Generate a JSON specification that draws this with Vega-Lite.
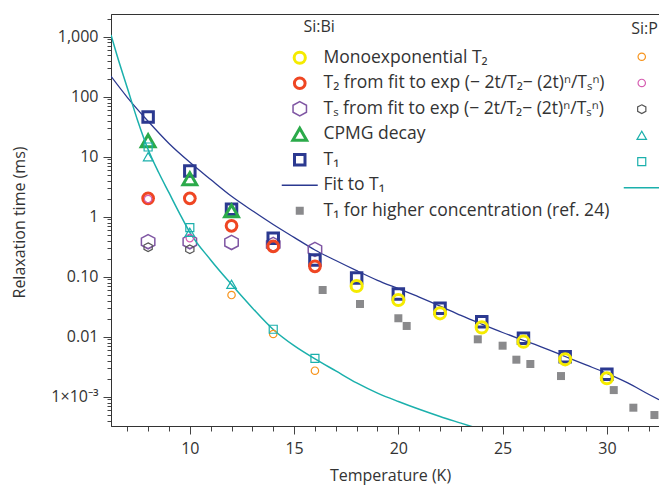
{
  "$schema": "https://vega.github.io/schema/vega-lite/v6.json",
  "width": 548,
  "height": 412,
  "autosize": "none",
  "padding": {"left": 111, "top": 14, "right": 0, "bottom": 60},
  "background": "white",
  "config": {
    "font": "Open Sans",
    "view": {"stroke": "#333333", "strokeWidth": 1},
    "axis": {"labelFont": "Open Sans", "titleFont": "Open Sans", "labelColor": "#333333", "titleColor": "#333333", "labelFontSize": 16, "titleFontSize": 16, "titleFontWeight": "normal", "domainColor": "#333333", "tickColor": "#444444", "grid": false},
    "legend": {"labelFont": "Open Sans", "titleFont": "Open Sans", "labelFontSize": 17.5, "labelColor": "#333333", "titleColor": "#333333", "titleFontSize": 16, "titleFontWeight": "normal", "labelLimit": 400, "gridAlign": "all"}
  },
  "datasets": {
    "bi": [
      {"T": 8, "v": 0.383, "s": "Tₛ from fit to exp (− 2t/T₂− (2t)ⁿ/Tₛⁿ)"},
      {"T": 10, "v": 0.383, "s": "Tₛ from fit to exp (− 2t/T₂− (2t)ⁿ/Tₛⁿ)"},
      {"T": 12, "v": 0.372, "s": "Tₛ from fit to exp (− 2t/T₂− (2t)ⁿ/Tₛⁿ)"},
      {"T": 14, "v": 0.345, "s": "Tₛ from fit to exp (− 2t/T₂− (2t)ⁿ/Tₛⁿ)"},
      {"T": 16, "v": 0.285, "s": "Tₛ from fit to exp (− 2t/T₂− (2t)ⁿ/Tₛⁿ)"},
      {"T": 16.37, "v": 0.06, "s": "T₁ for higher concentration (ref. 24)"},
      {"T": 18.16, "v": 0.0351, "s": "T₁ for higher concentration (ref. 24)"},
      {"T": 20.0, "v": 0.0203, "s": "T₁ for higher concentration (ref. 24)"},
      {"T": 20.4, "v": 0.0151, "s": "T₁ for higher concentration (ref. 24)"},
      {"T": 23.81, "v": 0.00905, "s": "T₁ for higher concentration (ref. 24)"},
      {"T": 25.0, "v": 0.00708, "s": "T₁ for higher concentration (ref. 24)"},
      {"T": 25.66, "v": 0.00414, "s": "T₁ for higher concentration (ref. 24)"},
      {"T": 26.33, "v": 0.00351, "s": "T₁ for higher concentration (ref. 24)"},
      {"T": 27.8, "v": 0.00221, "s": "T₁ for higher concentration (ref. 24)"},
      {"T": 30.33, "v": 0.00129, "s": "T₁ for higher concentration (ref. 24)"},
      {"T": 31.27, "v": 0.000656, "s": "T₁ for higher concentration (ref. 24)"},
      {"T": 32.28, "v": 0.000495, "s": "T₁ for higher concentration (ref. 24)"},
      {"T": 8, "v": 46, "s": "T₁"},
      {"T": 10, "v": 5.75, "s": "T₁"},
      {"T": 12, "v": 1.33, "s": "T₁"},
      {"T": 14, "v": 0.436, "s": "T₁"},
      {"T": 16, "v": 0.19, "s": "T₁"},
      {"T": 18, "v": 0.095, "s": "T₁"},
      {"T": 20, "v": 0.0515, "s": "T₁"},
      {"T": 22, "v": 0.0297, "s": "T₁"},
      {"T": 24, "v": 0.0178, "s": "T₁"},
      {"T": 26, "v": 0.0094, "s": "T₁"},
      {"T": 28, "v": 0.00464, "s": "T₁"},
      {"T": 30, "v": 0.00236, "s": "T₁"},
      {"T": 8, "v": 18.5, "s": "CPMG decay"},
      {"T": 10, "v": 4.3, "s": "CPMG decay"},
      {"T": 12, "v": 1.25, "s": "CPMG decay"},
      {"T": 8, "v": 2.02, "s": "T₂ from fit to exp (− 2t/T₂− (2t)ⁿ/Tₛⁿ)"},
      {"T": 10, "v": 2.02, "s": "T₂ from fit to exp (− 2t/T₂− (2t)ⁿ/Tₛⁿ)"},
      {"T": 12, "v": 0.705, "s": "T₂ from fit to exp (− 2t/T₂− (2t)ⁿ/Tₛⁿ)"},
      {"T": 14, "v": 0.32, "s": "T₂ from fit to exp (− 2t/T₂− (2t)ⁿ/Tₛⁿ)"},
      {"T": 16, "v": 0.149, "s": "T₂ from fit to exp (− 2t/T₂− (2t)ⁿ/Tₛⁿ)"},
      {"T": 18, "v": 0.070, "s": "Monoexponential T₂"},
      {"T": 20, "v": 0.0409, "s": "Monoexponential T₂"},
      {"T": 22, "v": 0.0245, "s": "Monoexponential T₂"},
      {"T": 24, "v": 0.0143, "s": "Monoexponential T₂"},
      {"T": 26, "v": 0.00826, "s": "Monoexponential T₂"},
      {"T": 28, "v": 0.0042, "s": "Monoexponential T₂"},
      {"T": 30, "v": 0.00203, "s": "Monoexponential T₂"}
    ],
    "p": [
      {"T": 8, "v": 0.31, "s": "P TS"},
      {"T": 10, "v": 0.286, "s": "P TS"},
      {"T": 12, "v": 0.0495, "s": "P mono"},
      {"T": 14, "v": 0.0111, "s": "P mono"},
      {"T": 16, "v": 0.00271, "s": "P mono"},
      {"T": 8, "v": 1.97, "s": "P T2"},
      {"T": 10, "v": 0.44, "s": "P T2"},
      {"T": 8, "v": 10, "s": "P CPMG"},
      {"T": 10, "v": 0.55, "s": "P CPMG"},
      {"T": 12, "v": 0.0747, "s": "P CPMG"},
      {"T": 8, "v": 14.5, "s": "P T1"},
      {"T": 10, "v": 0.66, "s": "P T1"},
      {"T": 14, "v": 0.0133, "s": "P T1"},
      {"T": 16, "v": 0.00437, "s": "P T1"}
    ],
    "bifit": [
      {"T": 6.22, "v": 218.8}, {"T": 7, "v": 97.7}, {"T": 8, "v": 38.9}, {"T": 9, "v": 16.6},
      {"T": 10, "v": 8.07}, {"T": 11, "v": 4.17}, {"T": 12, "v": 2.19}, {"T": 13, "v": 1.259},
      {"T": 14, "v": 0.741}, {"T": 15, "v": 0.452}, {"T": 16, "v": 0.279}, {"T": 17, "v": 0.186},
      {"T": 18, "v": 0.126}, {"T": 19, "v": 0.0871}, {"T": 20, "v": 0.0631}, {"T": 21, "v": 0.0457},
      {"T": 22, "v": 0.0324}, {"T": 23, "v": 0.0226}, {"T": 24, "v": 0.0162}, {"T": 25, "v": 0.01175},
      {"T": 26, "v": 0.00871}, {"T": 27, "v": 0.00646}, {"T": 28, "v": 0.00468}, {"T": 29, "v": 0.00339},
      {"T": 30, "v": 0.00245}, {"T": 31, "v": 0.0017}, {"T": 32, "v": 0.0011}, {"T": 32.5, "v": 0.00089}
    ],
    "pfit": [
      {"T": 6.22, "v": 1072}, {"T": 6.5, "v": 501}, {"T": 7, "v": 141}, {"T": 7.5, "v": 39.8},
      {"T": 8, "v": 13.2}, {"T": 8.5, "v": 5.5}, {"T": 9, "v": 2.51}, {"T": 9.5, "v": 1.15},
      {"T": 10, "v": 0.55}, {"T": 11, "v": 0.19}, {"T": 12, "v": 0.0741}, {"T": 13, "v": 0.0302},
      {"T": 14, "v": 0.0132}, {"T": 15, "v": 0.00708}, {"T": 16, "v": 0.00427}, {"T": 17, "v": 0.00269},
      {"T": 18, "v": 0.0017}, {"T": 19, "v": 0.00115}, {"T": 20, "v": 0.000832}, {"T": 21, "v": 0.000617},
      {"T": 22, "v": 0.000468}, {"T": 23, "v": 0.000363}, {"T": 24, "v": 0.000282}
    ]
  },
  "encoding": {
    "x": {
      "field": "T", "type": "quantitative",
      "scale": {"domain": [6.22, 32.5], "nice": false, "zero": false},
      "axis": {
        "title": "Temperature (K)",
        "values": [7,8,9,10,11,12,13,14,15,16,17,18,19,20,21,22,23,24,25,26,27,28,29,30,31,32],
        "labelExpr": "datum.value % 5 == 0 ? datum.label : ''",
        "format": "d",
        "tickSize": {"condition": {"test": "datum.value % 5 == 0", "value": 8}, "value": 5},
        "labelPadding": 6,
        "labelFlush": false,
        "labelOverlap": false,
        "titleX": 279, "titleY": 54, "titleAlign": "center", "titleBaseline": "alphabetic"
      }
    },
    "y": {
      "field": "v", "type": "quantitative",
      "scale": {"type": "log", "domain": [0.000325, 2388], "nice": false},
      "axis": {
        "title": "Relaxation time (ms)",
        "values": [0.0004,0.0005,0.0006,0.0007,0.0008,0.0009,0.001,0.002,0.003,0.004,0.005,0.006,0.007,0.008,0.009,0.01,0.02,0.03,0.04,0.05,0.06,0.07,0.08,0.09,0.1,0.2,0.3,0.4,0.5,0.6,0.7,0.8,0.9,1,2,3,4,5,6,7,8,9,10,20,30,40,50,60,70,80,90,100,200,300,400,500,600,700,800,900,1000,2000],
        "labelExpr": "datum.value == 1000 ? '1,000' : datum.value == 100 ? '100' : datum.value == 10 ? '10' : datum.value == 1 ? '1' : datum.value == 0.1 ? '0.10' : datum.value == 0.01 ? '0.01' : datum.value == 0.001 ? '1×10⁻³' : ''",
        "tickSize": {"condition": {"test": "indexof([0.001,0.01,0.1,1,10,100,1000], datum.value) >= 0", "value": 8}, "value": 4},
        "labelPadding": 5,
        "labelOverlap": false,
        "titleX": -92, "titleY": 208, "titleAngle": -90, "titleAlign": "center", "titleBaseline": "middle"
      }
    }
  },
  "layer": [
    {
      "layer": [
        {
          "data": {"name": "bifit"},
          "mark": {"type": "line", "color": "#2B3990", "strokeWidth": 1.3, "clip": true, "interpolate": "monotone"},
          "encoding": {}
        },
        {
          "data": {"name": "bi"},
          "mark": {"type": "point", "opacity": 1, "clip": true},
          "encoding": {
            "shape": {"field": "s", "type": "nominal",
              "scale": {"domain": ["Monoexponential T₂", "T₂ from fit to exp (− 2t/T₂− (2t)ⁿ/Tₛⁿ)", "Tₛ from fit to exp (− 2t/T₂− (2t)ⁿ/Tₛⁿ)", "CPMG decay", "T₁", "Fit to T₁", "T₁ for higher concentration (ref. 24)"],
                "range": ["circle", "circle", "M0,-1L0.95,-0.5L0.95,0.5L0,1L-0.95,0.5L-0.95,-0.5Z", "triangle-up", "square", "M-2.4,0H2.4", "square"]},
              "legend": {"title": "\u200b\u00a0\u00a0\u00a0Si:Bi", "orient": "none", "legendX": 180, "legendY": 5, "padding": 0, "rowPadding": 0.5, "labelOffset": 15, "titlePadding": 14}},
            "stroke": {"field": "s", "type": "nominal",
              "scale": {"domain": ["Monoexponential T₂", "T₂ from fit to exp (− 2t/T₂− (2t)ⁿ/Tₛⁿ)", "Tₛ from fit to exp (− 2t/T₂− (2t)ⁿ/Tₛⁿ)", "CPMG decay", "T₁", "Fit to T₁", "T₁ for higher concentration (ref. 24)"],
                "range": ["#F5EB00", "#EF4623", "#7F56A3", "#2BAA4A", "#2B3990", "#2B3990", "#8A8A8C"]},
              "legend": {"title": "\u200b\u00a0\u00a0\u00a0Si:Bi", "orient": "none", "legendX": 180, "legendY": 5, "padding": 0, "rowPadding": 0.5, "labelOffset": 15, "titlePadding": 14}},
            "fill": {"field": "s", "type": "nominal",
              "scale": {"domain": ["Monoexponential T₂", "T₂ from fit to exp (− 2t/T₂− (2t)ⁿ/Tₛⁿ)", "Tₛ from fit to exp (− 2t/T₂− (2t)ⁿ/Tₛⁿ)", "CPMG decay", "T₁", "Fit to T₁", "T₁ for higher concentration (ref. 24)"],
                "range": ["transparent", "transparent", "transparent", "transparent", "transparent", "transparent", "#8A8A8C"]},
              "legend": {"title": "\u200b\u00a0\u00a0\u00a0Si:Bi", "orient": "none", "legendX": 180, "legendY": 5, "padding": 0, "rowPadding": 0.5, "labelOffset": 15, "titlePadding": 14}},
            "size": {"field": "s", "type": "nominal",
              "scale": {"type": "ordinal", "domain": ["Monoexponential T₂", "T₂ from fit to exp (− 2t/T₂− (2t)ⁿ/Tₛⁿ)", "Tₛ from fit to exp (− 2t/T₂− (2t)ⁿ/Tₛⁿ)", "CPMG decay", "T₁", "Fit to T₁", "T₁ for higher concentration (ref. 24)"],
                "range": [125, 115, 200, 190, 110, 225, 64]},
              "legend": {"title": "\u200b\u00a0\u00a0\u00a0Si:Bi", "orient": "none", "legendX": 180, "legendY": 5, "padding": 0, "rowPadding": 0.5, "labelOffset": 15, "titlePadding": 14}},
            "strokeWidth": {"field": "s", "type": "nominal",
              "scale": {"type": "ordinal", "domain": ["Monoexponential T₂", "T₂ from fit to exp (− 2t/T₂− (2t)ⁿ/Tₛⁿ)", "Tₛ from fit to exp (− 2t/T₂− (2t)ⁿ/Tₛⁿ)", "CPMG decay", "T₁", "Fit to T₁", "T₁ for higher concentration (ref. 24)"],
                "range": [3, 3, 1.5, 3, 3, 1.4, 0]},
              "legend": {"title": "\u200b\u00a0\u00a0\u00a0Si:Bi", "orient": "none", "legendX": 180, "legendY": 5, "padding": 0, "rowPadding": 0.5, "labelOffset": 15, "titlePadding": 14}}
          }
        }
      ]
    },
    {
      "layer": [
        {
          "data": {"name": "pfit"},
          "mark": {"type": "line", "color": "#1BB0AC", "strokeWidth": 1.5, "clip": true, "interpolate": "monotone"},
          "encoding": {}
        },
        {
          "data": {"name": "p"},
          "mark": {"type": "point", "opacity": 1, "clip": true},
          "encoding": {
            "shape": {"field": "s", "type": "nominal",
              "scale": {"domain": ["P mono", "P T2", "P TS", "P CPMG", "P T1", "P fit"],
                "range": ["circle", "circle", "M0,-1L0.95,-0.5L0.95,0.5L0,1L-0.95,0.5L-0.95,-0.5Z", "triangle-up", "square", "M-3.6,0H3.6"]},
              "legend": {"title": "\u200b\u00a0Si:P", "orient": "none", "legendX": 516, "legendY": 7, "padding": 0, "rowPadding": 7.2, "labelOffset": 0, "symbolOffset": 6, "labelExpr": "''", "titlePadding": 11}},
            "stroke": {"field": "s", "type": "nominal",
              "scale": {"domain": ["P mono", "P T2", "P TS", "P CPMG", "P T1", "P fit"],
                "range": ["#F7941D", "#D65DB1", "#555555", "#1BB0AC", "#1BB0AC", "#1BB0AC"]},
              "legend": {"title": "\u200b\u00a0Si:P", "orient": "none", "legendX": 516, "legendY": 7, "padding": 0, "rowPadding": 7.2, "labelOffset": 0, "symbolOffset": 6, "labelExpr": "''", "titlePadding": 11}},
            "fill": {"field": "s", "type": "nominal",
              "scale": {"domain": ["P mono", "P T2", "P TS", "P CPMG", "P T1", "P fit"],
                "range": ["transparent", "transparent", "transparent", "transparent", "transparent", "transparent"]},
              "legend": {"title": "\u200b\u00a0Si:P", "orient": "none", "legendX": 516, "legendY": 7, "padding": 0, "rowPadding": 7.2, "labelOffset": 0, "symbolOffset": 6, "labelExpr": "''", "titlePadding": 11}},
            "size": {"field": "s", "type": "nominal",
              "scale": {"type": "ordinal", "domain": ["P mono", "P T2", "P TS", "P CPMG", "P T1", "P fit"],
                "range": [55, 55, 75, 90, 64, 100]},
              "legend": {"title": "\u200b\u00a0Si:P", "orient": "none", "legendX": 516, "legendY": 7, "padding": 0, "rowPadding": 7.2, "labelOffset": 0, "symbolOffset": 6, "labelExpr": "''", "titlePadding": 11}},
            "strokeWidth": {"field": "s", "type": "nominal",
              "scale": {"type": "ordinal", "domain": ["P mono", "P T2", "P TS", "P CPMG", "P T1", "P fit"],
                "range": [1.2, 1.2, 1.2, 1.2, 1.2, 1.5]},
              "legend": {"title": "\u200b\u00a0Si:P", "orient": "none", "legendX": 516, "legendY": 7, "padding": 0, "rowPadding": 7.2, "labelOffset": 0, "symbolOffset": 6, "labelExpr": "''", "titlePadding": 11}}
          }
        }
      ]
    }
  ],
  "resolve": {"scale": {"shape": "independent", "stroke": "independent", "fill": "independent", "size": "independent", "strokeWidth": "independent"}}
}
